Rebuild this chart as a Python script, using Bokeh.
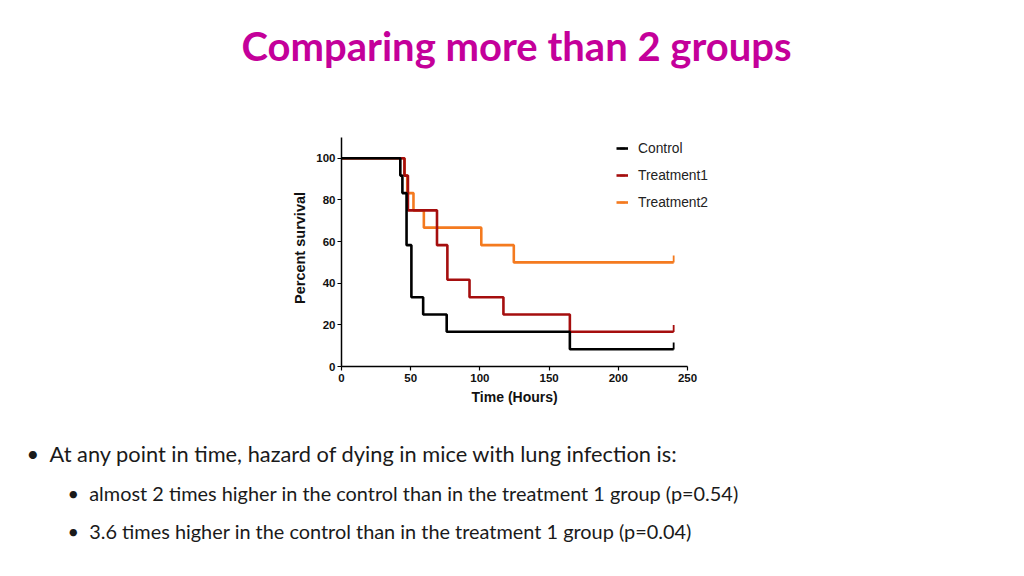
import numpy as np
from bokeh.plotting import figure
from bokeh.models import Range1d, Legend, LegendItem, FixedTicker, Title
from bokeh.embed import file_html
from bokeh.resources import INLINE

# ---- data ----
control_t = [0, 42.5, 44, 47, 50.5, 59, 76, 165, 240]
control_s = [100, 91.7, 83.3, 58.3, 33.3, 25, 16.7, 8.3, 8.3]
treat1_t = [0, 45.5, 48, 69, 76.5, 92.5, 117, 165, 240]
treat1_s = [100, 91.7, 75, 58.3, 41.7, 33.3, 25, 16.7, 16.7]
treat2_t = [0, 45.5, 47.5, 52, 59.5, 101, 124.5, 240]
treat2_s = [100, 91.7, 83.3, 75, 66.7, 58.3, 50, 50]
series_names = ["Control", "Treatment1", "Treatment2"]
series_colors = ["#000000", "#A50E0E", "#F47A1F"]
x_ticks = [0, 50, 100, 150, 200, 250]
y_ticks = [0, 20, 40, 60, 80, 100]

title_text = "Comparing more than 2 groups"
bullet_main = "At any point in time, hazard of dying in mice with lung infection is:"
bullet_subs = [
    "almost 2 times higher in the control than in the treatment 1 group (p=0.54)",
    "3.6 times higher in the control than in the treatment 1 group (p=0.04)",
]

W, H = 1008, 560
FL, FR, FT, FB = 341, 730, 137, 366      # frame edges in page pixels
x_px_per_unit = 346 / 250
NB = "\u00a0"

p = figure(width=W, height=H, output_backend="svg", toolbar_location=None,
           title_location=None,
           x_range=Range1d(0, (FR - FL) / x_px_per_unit), y_range=Range1d(0, 110),
           min_border_left=FL, min_border_right=W - FR,
           min_border_top=FT, min_border_bottom=H - FB)
p.outline_line_color = None
p.grid.visible = False
p.background_fill_color = "white"
p.border_fill_color = "white"

for ax, ticks in ((p.xaxis[0], x_ticks), (p.yaxis[0], y_ticks)):
    ax.ticker = FixedTicker(ticks=ticks)
    ax.minor_tick_line_color = None
    ax.major_tick_in = 0
    ax.major_tick_out = 4
    ax.axis_line_width = 1.5
    ax.major_tick_line_width = 1.2
    ax.axis_line_color = "black"
    ax.major_tick_line_color = "black"
    ax.major_label_text_font = "Liberation Sans"
    ax.major_label_text_font_style = "bold"
    ax.major_label_text_font_size = "11.5px"
    ax.major_label_text_color = "#111111"
    ax.axis_label_text_font = "Liberation Sans"
    ax.axis_label_text_font_style = "bold"
    ax.axis_label_text_font_size = "14px"
    ax.axis_label_text_color = "#111111"
p.xaxis[0].bounds = (x_ticks[0], x_ticks[-1])
# the frame is wider than the bounded x axis (room for the legend); pad so the label centres under 0..250
p.xaxis.axis_label = "Time (Hours)" + NB * 11
p.yaxis.axis_label = NB * 2 + "Percent survival"
p.yaxis.axis_label_text_font_size = "14.5px"
p.xaxis.major_label_standoff = 3
p.yaxis.major_label_standoff = 2
p.xaxis.axis_label_standoff = 4
p.yaxis.axis_label_standoff = 5

data = [(treat2_t, treat2_s), (treat1_t, treat1_s), (control_t, control_s)]
names = series_names[::-1]
colors = series_colors[::-1]
rend = {}
for (t, s), name, col in zip(data, names, colors):
    r = p.step(t, s, mode="after", line_color=col, line_width=2.6)
    m = p.scatter([t[-1]], [s[-1] + 1.6], marker="dash", angle=np.pi / 2,
                  size=7, line_color=col, line_width=1.8)
    rend[name] = [r, m]
items = [LegendItem(label=name, renderers=rend[name]) for name in series_names]

legend = Legend(items=items, location=(275, 154), padding=0, margin=0,
                spacing=7, glyph_width=12, glyph_height=20, label_height=20,
                label_standoff=10, border_line_color=None,
                background_fill_alpha=0,
                label_text_font="Liberation Sans", label_text_font_size="13.8px",
                label_text_color="#222222")
p.add_layout(legend, "center")


def spacer(standoff):
    return Title(text=NB, text_font_size="1px", standoff=standoff)


def line(txt, x, size, standoff, bold=False, color="#1a1a1a"):
    return Title(text=txt, align="left", offset=x - FL, standoff=standoff,
                 vertical_align="middle", text_font="Lato",
                 text_font_style="bold" if bold else "normal",
                 text_font_size=size, text_color=color)


# ---- heading (above panel: spacer next to frame, then heading) ----
p.add_layout(spacer(60), "above")
p.add_layout(line(title_text, 241, "40px", 8, bold=True, color="#C4009A"), "above")

# ---- bullet lines (below panel, stacked under the x axis) ----
p.add_layout(spacer(22), "below")
p.add_layout(line("•" + NB * 2 + bullet_main, 26, "21.8px", 12), "below")
p.add_layout(line("•" + NB * 2 + bullet_subs[0], 67, "19.9px", 12), "below")
p.add_layout(line("•" + NB * 2 + bullet_subs[1], 67, "19.9px", 12), "below")

open("out.html", "w").write(file_html(p, INLINE))
